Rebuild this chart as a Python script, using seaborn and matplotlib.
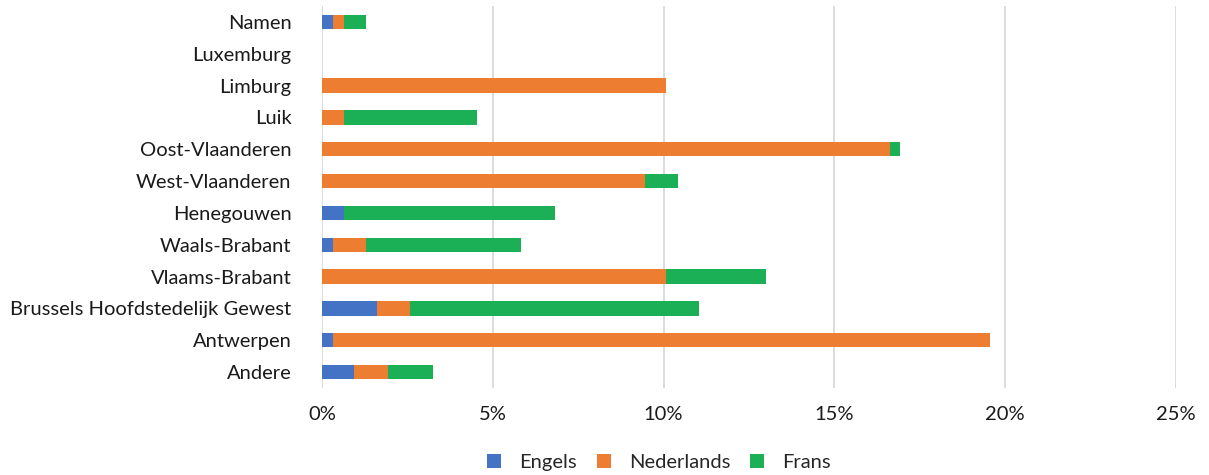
import matplotlib
matplotlib.use("Agg")
import matplotlib.pyplot as plt
import seaborn as sns
import pandas as pd
from matplotlib.patches import Patch

regions = ["Namen", "Luxemburg", "Limburg", "Luik", "Oost-Vlaanderen",
           "West-Vlaanderen", "Henegouwen", "Waals-Brabant", "Vlaams-Brabant",
           "Brussels Hoofdstedelijk Gewest", "Antwerpen", "Andere"]
engels      = [0.33, 0.0, 0.0, 0.0, 0.0, 0.0, 0.63, 0.33, 0.0, 1.62, 0.33, 0.94]
nederlands  = [0.30, 0.0, 10.07, 0.63, 16.63, 9.45, 0.0, 0.97, 10.08, 0.97, 19.23, 0.99]
frans       = [0.67, 0.0, 0.0, 3.92, 0.30, 0.98, 6.19, 4.54, 2.92, 8.46, 0.0, 1.33]
xticks = [0, 5, 10, 15, 20, 25]
xticklabels = ["0%", "5%", "10%", "15%", "20%", "25%"]
series_names = ["Engels", "Nederlands", "Frans"]
colors = ["#4472C4", "#ED7D31", "#1BB055"]

sns.set_theme(style="white")
plt.rcParams["font.family"] = ["Lato", "DejaVu Sans"]

df = pd.DataFrame({"regio": regions, "Engels": engels,
                   "Nederlands": nederlands, "Frans": frans})
df["c1"] = df["Engels"]
df["c2"] = df["Engels"] + df["Nederlands"]
df["c3"] = df["c2"] + df["Frans"]

fig = plt.figure(figsize=(12.09, 4.75), dpi=100)
ax = fig.add_axes([322/1209, 1-388/475, (1176-322)/1209, (388-6)/475])

for col, name, c in [("c3", "Frans", colors[2]), ("c2", "Nederlands", colors[1]),
                     ("c1", "Engels", colors[0])]:
    sns.barplot(data=df, y="regio", x=col, order=regions, color=c, width=0.45,
                ax=ax, label=name, linewidth=0, saturation=1)

ax.set_xlim(0, 25)
ax.set_ylim(len(regions)-0.5, -0.5)
ax.set_xticks(xticks)
ax.set_xticklabels(xticklabels, fontsize=14.5, color="#1a1a1a")
ax.tick_params(axis="y", labelsize=14.5, labelcolor="#1a1a1a", length=0, pad=22)
ax.tick_params(axis="x", length=0, pad=13)
ax.set_xlabel("")
ax.set_ylabel("")
for s in ax.spines.values():
    s.set_visible(False)
ax.xaxis.grid(True, color="#d9d9d9", linewidth=1.3)
ax.set_axisbelow(True)

leg_handles = [Patch(facecolor=c, edgecolor="none") for c in colors]
fig.legend(leg_handles, series_names, loc="center", bbox_to_anchor=(0.545, 0.027),
           ncol=3, frameon=False, fontsize=14.5, handlelength=0.7, handleheight=0.7,
           columnspacing=1.0, handletextpad=0.9)
if ax.get_legend() is not None:
    ax.get_legend().remove()

fig.savefig("out.png", dpi=100)
